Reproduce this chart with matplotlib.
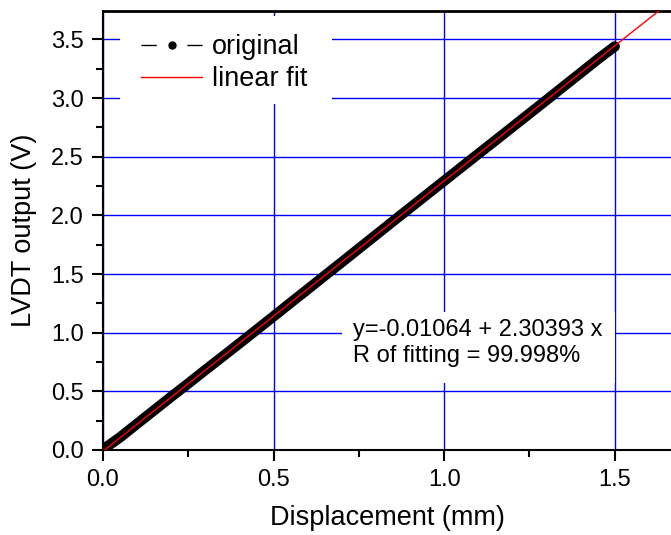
# LVDT 校正曲線: 変位と出力電圧、および一次近似線
import matplotlib

matplotlib.use("Agg")
import matplotlib.pyplot as plt
from matplotlib.lines import Line2D
from matplotlib.patches import Rectangle
from matplotlib.ticker import MultipleLocator, FormatStrFormatter

plt.rcParams["font.family"] = ["Liberation Sans", "DejaVu Sans"]

displacement_mm = [0.00, 0.05, 0.10, 0.15, 0.20, 0.25, 0.30, 0.35, 0.40, 0.45,
                   0.50, 0.55, 0.60, 0.65, 0.70, 0.75, 0.80, 0.85, 0.90, 0.95,
                   1.00, 1.05, 1.10, 1.15, 1.20, 1.25, 1.30, 1.35, 1.40, 1.45,
                   1.50]
output_v = [0.005, 0.108, 0.224, 0.339, 0.454, 0.567, 0.682, 0.795, 0.909, 1.024,
            1.139, 1.255, 1.370, 1.486, 1.601, 1.717, 1.833, 1.949, 2.064, 2.179,
            2.294, 2.409, 2.524, 2.638, 2.753, 2.868, 2.983, 3.099, 3.214, 3.330,
            3.440]

fit_intercept = -0.01064
fit_slope = 2.30393
fit_r_pct = 99.998
fit_x = [0.0, 1.7]

fig = plt.figure(figsize=(6.71, 5.35), dpi=100)
ax = fig.add_axes([0.1535, 0.1589, 0.8465, 0.8205])
ax.set_xlim(0, 1.665)
ax.set_ylim(0, 3.742)

ax.grid(True, which="major", color="#0000ff", linewidth=1.0, zorder=0)
ax.set_axisbelow(True)

# データ点は密に並ぶため太線で帯として描く
ax.plot(displacement_mm, output_v, color="black", linewidth=7.5,
        solid_capstyle="round", zorder=3)
fit_y = [fit_intercept + fit_slope * x for x in fit_x]
ax.plot(fit_x, fit_y, color="red", linewidth=1.0, zorder=4)

# 凡例と注記の白背景 (グリッドを隠す)
ax.add_patch(Rectangle((0.05, 2.95), 0.62, 0.75, facecolor="white",
                       edgecolor="none", zorder=1))
ax.add_patch(Rectangle((0.70, 0.57), 0.80, 0.61, facecolor="white",
                       edgecolor="none", zorder=1))

handles = [
    Line2D([], [], color="black", linestyle=(0, (11, 22)), linewidth=1.0,
           marker="o", markersize=5),
    Line2D([], [], color="red", linewidth=1.0),
]
leg = ax.legend(handles, ["original", "linear fit"], loc="upper left",
                bbox_to_anchor=(0.034, 0.99), frameon=False, fontsize=19.5,
                handlelength=2.25, handletextpad=0.35, labelspacing=0.22,
                borderaxespad=0.3)
leg.set_zorder(5)

ax.text(0.734, 1.115,
        f"y={fit_intercept} + {fit_slope} x\nR of fitting = {fit_r_pct}%",
        fontsize=17, va="top", ha="left", linespacing=1.2, zorder=5)

ax.xaxis.set_major_locator(MultipleLocator(0.5))
ax.xaxis.set_minor_locator(MultipleLocator(0.25))
ax.yaxis.set_major_locator(MultipleLocator(0.5))
ax.yaxis.set_minor_locator(MultipleLocator(0.25))
ax.xaxis.set_major_formatter(FormatStrFormatter("%.1f"))
ax.yaxis.set_major_formatter(FormatStrFormatter("%.1f"))
ax.tick_params(which="major", direction="out", length=8, width=1.5,
               labelsize=17, colors="black")
ax.tick_params(which="minor", direction="out", length=5, width=1.5)
ax.tick_params(axis="x", which="major", pad=6)
ax.tick_params(axis="y", which="major", pad=6)
ax.tick_params(top=False, right=False)

for side in ("left", "bottom"):
    ax.spines[side].set_linewidth(1.5)
ax.spines["top"].set_linewidth(2.0)
ax.spines["right"].set_visible(False)

ax.set_xlabel("Displacement (mm)", fontsize=19.5, labelpad=10)
ax.set_ylabel("LVDT output (V)", fontsize=19.5, labelpad=10)

fig.savefig("out.png", dpi=100)
plt.close(fig)
